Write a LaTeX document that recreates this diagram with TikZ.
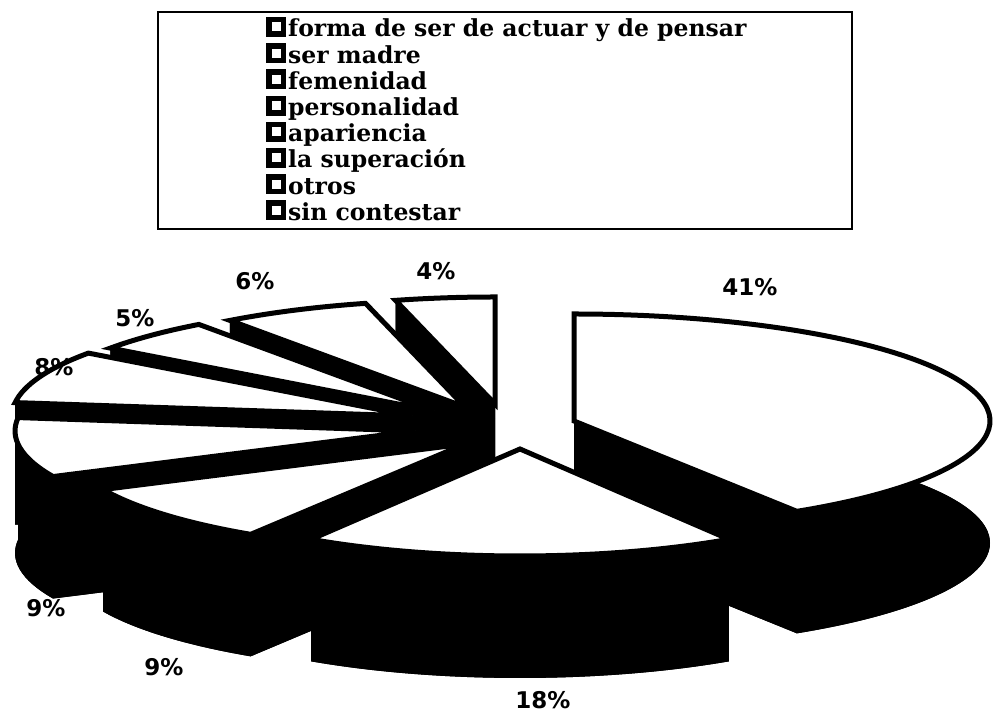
\documentclass[tikz,border=0pt]{standalone}
\usepackage{fontspec}
\setmainfont{DejaVu Serif}
\setsansfont{DejaVu Sans}
\usepackage{tikz}
\usetikzlibrary{calc}

\begin{document}
\begin{tikzpicture}[
        x=1pt, y=1pt,
        % white tops with heavy black rims, black sides
        slicetop/.style={fill=white, draw=black, line width=5pt, line join=miter},
        slicebody/.style={fill=black},
        pct/.style={font=\sffamily\bfseries\fontsize{23}{23}\selectfont, inner sep=0pt},
        legsq/.style={draw=black, fill=white, line width=5.5pt,
            minimum size=14.5pt, inner sep=0pt},
        legtxt/.style={font=\bfseries\fontsize{23.5}{26}\selectfont, inner sep=0pt,
            anchor=base west}
    ]
        \useasboundingbox (0,0) rectangle (994,717);

        % Legend
        \node[draw, line width=1.6pt, minimum width=694pt, minimum height=217pt,
            inner sep=0pt] (legend) at (505,596.5) {};
        \foreach \txt [count=\i] in {forma de ser de actuar y de pensar, ser madre,
            femenidad, personalidad, apariencia, la superación, otros, sin contestar}{
            \node[legsq] (sq\i) at (276,{690-26.2*(\i-1)}) {};
            \node[legtxt] (lt\i) at ($(sq\i.center)+(12,-10)$) {\txt};
        }

        % Slices, back to front: centre x/centre y/x radius/start/end
        \foreach \cx/\cy/\rx/\a/\b in {495/313/400/90/104.4, 465/310/400/104.4/126,
            434/306/400/126/144, 412/301/400/144/172.8, 574/296/416/-57.6/90,
            415/286/400/172.8/205.2, 465/273/400/205.2/237.6, 520/268/390/237.6/302.4}{
            \coordinate (c) at (\cx,\cy);
            \coordinate (cb) at (\cx,\cy-122);
            \fill[slicebody] (cb) -- ++(\a:\rx pt and 107pt)
                arc[start angle=\a, end angle=\b, x radius=\rx pt, y radius=107pt] -- cycle;
            \fill[slicebody] (c) -- ++(\a:\rx pt and 107pt) -- ++(0,-122) -- (cb) -- cycle;
            \fill[slicebody] (c) -- ++(\b:\rx pt and 107pt) -- ++(0,-122) -- (cb) -- cycle;
            \fill[slicebody] (c) ++(\a:\rx pt and 107pt)
                arc[start angle=\a, end angle=\b, x radius=\rx pt, y radius=107pt]
                -- ++(0,-122)
                arc[start angle=\b, end angle=\a, x radius=\rx pt, y radius=107pt] -- cycle;
            \draw[slicetop] (c) -- ++(\a:\rx pt and 107pt)
                arc[start angle=\a, end angle=\b, x radius=\rx pt, y radius=107pt] -- cycle;
        }

        % Percentages
        \node[pct] (p41) at (750,430) {41\%};
        \node[pct] (p18) at (543,17) {18\%};
        \node[pct] (p9a) at (164,50) {9\%};
        \node[pct] (p9b) at (46,109) {9\%};
        \node[pct] (p8) at (54,350) {8\%};
        \node[pct] (p5) at (135,399) {5\%};
        \node[pct] (p6) at (255,436) {6\%};
        \node[pct] (p4) at (436,446) {4\%};
    \end{tikzpicture}
\end{document}
